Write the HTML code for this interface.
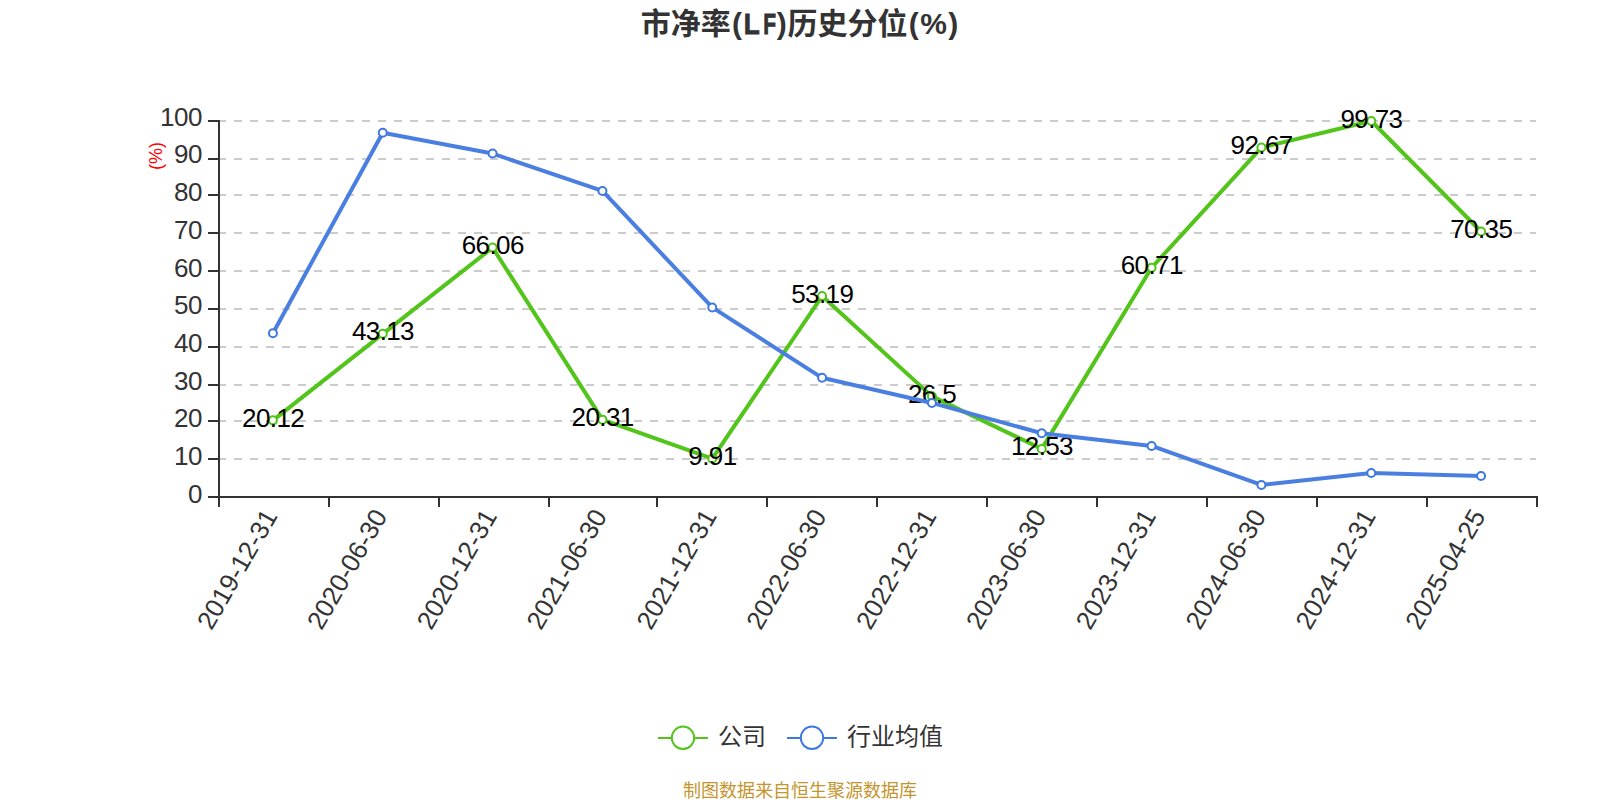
<!DOCTYPE html>
<html lang="zh-CN">
<head>
<meta charset="utf-8">
<title>市净率(LF)历史分位(%)</title>
<style>
html,body{margin:0;padding:0;background:#fff;}
body{width:1600px;height:800px;overflow:hidden;font-family:"Liberation Sans","Noto Sans CJK SC",sans-serif;}
svg{display:block;}
svg text{font-family:"Liberation Sans","Noto Sans CJK SC",sans-serif;}
</style>
</head>
<body>
<svg width="1600" height="800" viewBox="0 0 1600 800">
<rect x="0" y="0" width="1600" height="800" fill="#ffffff"/>
<text y="34" font-size="30" font-weight="bold" fill="#333333"><tspan x="640.85">市净率</tspan><tspan x="732.1">(</tspan><tspan x="743.7" textLength="16" lengthAdjust="spacingAndGlyphs" stroke="#333333" stroke-width="0.8">L</tspan><tspan x="763.2" textLength="12.8" lengthAdjust="spacingAndGlyphs" stroke="#333333" stroke-width="0.9">F</tspan><tspan x="776.7">)</tspan><tspan x="787.5">历史分位</tspan><tspan x="908.75">(</tspan><tspan x="920.3">%</tspan><tspan x="948.2">)</tspan></text>
<g stroke="#cccccc" stroke-width="2" stroke-dasharray="8 8" fill="none">
<line x1="218" y1="459" x2="1536" y2="459"/>
<line x1="218" y1="421" x2="1536" y2="421"/>
<line x1="218" y1="385" x2="1536" y2="385"/>
<line x1="218" y1="347" x2="1536" y2="347"/>
<line x1="218" y1="309" x2="1536" y2="309"/>
<line x1="218" y1="271" x2="1536" y2="271"/>
<line x1="218" y1="233" x2="1536" y2="233"/>
<line x1="218" y1="195" x2="1536" y2="195"/>
<line x1="218" y1="159" x2="1536" y2="159"/>
<line x1="218" y1="121" x2="1536" y2="121"/>
</g>
<g stroke="#333333" stroke-width="2" fill="none">
<line x1="219" y1="120" x2="219" y2="498"/>
<line x1="218" y1="497" x2="1538" y2="497"/>
<line x1="208" y1="497" x2="219" y2="497"/>
<line x1="208" y1="459" x2="219" y2="459"/>
<line x1="208" y1="421" x2="219" y2="421"/>
<line x1="208" y1="385" x2="219" y2="385"/>
<line x1="208" y1="347" x2="219" y2="347"/>
<line x1="208" y1="309" x2="219" y2="309"/>
<line x1="208" y1="271" x2="219" y2="271"/>
<line x1="208" y1="233" x2="219" y2="233"/>
<line x1="208" y1="195" x2="219" y2="195"/>
<line x1="208" y1="159" x2="219" y2="159"/>
<line x1="208" y1="121" x2="219" y2="121"/>
<line x1="219" y1="497" x2="219" y2="507"/>
<line x1="329" y1="497" x2="329" y2="507"/>
<line x1="439" y1="497" x2="439" y2="507"/>
<line x1="549" y1="497" x2="549" y2="507"/>
<line x1="657" y1="497" x2="657" y2="507"/>
<line x1="767" y1="497" x2="767" y2="507"/>
<line x1="877" y1="497" x2="877" y2="507"/>
<line x1="987" y1="497" x2="987" y2="507"/>
<line x1="1097" y1="497" x2="1097" y2="507"/>
<line x1="1207" y1="497" x2="1207" y2="507"/>
<line x1="1317" y1="497" x2="1317" y2="507"/>
<line x1="1427" y1="497" x2="1427" y2="507"/>
<line x1="1537" y1="497" x2="1537" y2="507"/>
</g>
<g font-size="26" fill="#333333" text-anchor="end" letter-spacing="-0.5">
<text x="202" y="502.85">0</text>
<text x="202" y="465.13">10</text>
<text x="202" y="427.41">20</text>
<text x="202" y="389.69">30</text>
<text x="202" y="351.97">40</text>
<text x="202" y="314.25">50</text>
<text x="202" y="276.53">60</text>
<text x="202" y="238.81">70</text>
<text x="202" y="201.09">80</text>
<text x="202" y="163.37">90</text>
<text x="202" y="125.65">100</text>
</g>
<text font-size="18" fill="#ff0000" text-anchor="middle" transform="translate(162,156) rotate(-90)">(%)</text>
<g font-size="26" fill="#333333" text-anchor="end">
<text transform="translate(272.92,513) rotate(-60)" x="0" y="6">2019-12-31</text>
<text transform="translate(382.75,513) rotate(-60)" x="0" y="6">2020-06-30</text>
<text transform="translate(492.58,513) rotate(-60)" x="0" y="6">2020-12-31</text>
<text transform="translate(602.42,513) rotate(-60)" x="0" y="6">2021-06-30</text>
<text transform="translate(712.25,513) rotate(-60)" x="0" y="6">2021-12-31</text>
<text transform="translate(822.08,513) rotate(-60)" x="0" y="6">2022-06-30</text>
<text transform="translate(931.92,513) rotate(-60)" x="0" y="6">2022-12-31</text>
<text transform="translate(1041.75,513) rotate(-60)" x="0" y="6">2023-06-30</text>
<text transform="translate(1151.58,513) rotate(-60)" x="0" y="6">2023-12-31</text>
<text transform="translate(1261.42,513) rotate(-60)" x="0" y="6">2024-06-30</text>
<text transform="translate(1371.25,513) rotate(-60)" x="0" y="6">2024-12-31</text>
<text transform="translate(1481.08,513) rotate(-60)" x="0" y="6">2025-04-25</text>
</g>
<polyline points="272.92,420.35 382.75,333.83 492.58,247.61 602.42,419.63 712.25,458.74 822.08,296.01 931.92,396.36 1041.75,448.89 1151.58,267.73 1261.42,147.56 1371.25,121.02 1481.08,231.48" fill="none" stroke="#52c41a" stroke-width="4" stroke-linejoin="bevel"/>
<g fill="#ffffff" stroke="#52c41a" stroke-width="2">
<circle cx="272.92" cy="420.35" r="4"/>
<circle cx="382.75" cy="333.83" r="4"/>
<circle cx="492.58" cy="247.61" r="4"/>
<circle cx="602.42" cy="419.63" r="4"/>
<circle cx="712.25" cy="458.74" r="4"/>
<circle cx="822.08" cy="296.01" r="4"/>
<circle cx="931.92" cy="396.36" r="4"/>
<circle cx="1041.75" cy="448.89" r="4"/>
<circle cx="1151.58" cy="267.73" r="4"/>
<circle cx="1261.42" cy="147.56" r="4"/>
<circle cx="1371.25" cy="121.02" r="4"/>
<circle cx="1481.08" cy="231.48" r="4"/>
</g>
<g font-size="26" fill="#000000" text-anchor="middle" letter-spacing="-0.6">
<text x="273.12" y="426.85">20.12</text>
<text x="382.95" y="340.33">43.13</text>
<text x="492.78" y="254.11">66.06</text>
<text x="602.62" y="426.13">20.31</text>
<text x="712.45" y="465.24">9.91</text>
<text x="822.28" y="302.51">53.19</text>
<text x="932.12" y="402.86">26.5</text>
<text x="1041.95" y="455.39">12.53</text>
<text x="1151.78" y="274.23">60.71</text>
<text x="1261.62" y="154.06">92.67</text>
<text x="1371.45" y="127.52">99.73</text>
<text x="1481.28" y="237.98">70.35</text>
</g>
<polyline points="272.92,333.19 382.75,132.75 492.58,153.58 602.42,190.95 712.25,307.44 822.08,377.82 931.92,402.94 1041.75,433.28 1151.58,445.95 1261.42,484.95 1371.25,472.99 1481.08,476.00" fill="none" stroke="#4a7fe1" stroke-width="4" stroke-linejoin="bevel"/>
<g fill="#ffffff" stroke="#3f78e0" stroke-width="2">
<circle cx="272.92" cy="333.19" r="4"/>
<circle cx="382.75" cy="132.75" r="4"/>
<circle cx="492.58" cy="153.58" r="4"/>
<circle cx="602.42" cy="190.95" r="4"/>
<circle cx="712.25" cy="307.44" r="4"/>
<circle cx="822.08" cy="377.82" r="4"/>
<circle cx="931.92" cy="402.94" r="4"/>
<circle cx="1041.75" cy="433.28" r="4"/>
<circle cx="1151.58" cy="445.95" r="4"/>
<circle cx="1261.42" cy="484.95" r="4"/>
<circle cx="1371.25" cy="472.99" r="4"/>
<circle cx="1481.08" cy="476.00" r="4"/>
</g>
<line x1="658" y1="738" x2="708" y2="738" stroke="#52c41a" stroke-width="2"/>
<circle cx="683" cy="737.8" r="11.2" fill="#ffffff" stroke="#52c41a" stroke-width="2"/>
<text x="718" y="744.6" font-size="24" fill="#333333">公司</text>
<line x1="787" y1="738" x2="837" y2="738" stroke="#3f78e0" stroke-width="2"/>
<circle cx="812" cy="737.8" r="11.2" fill="#ffffff" stroke="#3f78e0" stroke-width="2"/>
<text x="847" y="744.6" font-size="24" fill="#333333">行业均值</text>
<text x="800" y="797" font-size="18" fill="#c4952e" text-anchor="middle">制图数据来自恒生聚源数据库</text>
</svg>
</body>
</html>
